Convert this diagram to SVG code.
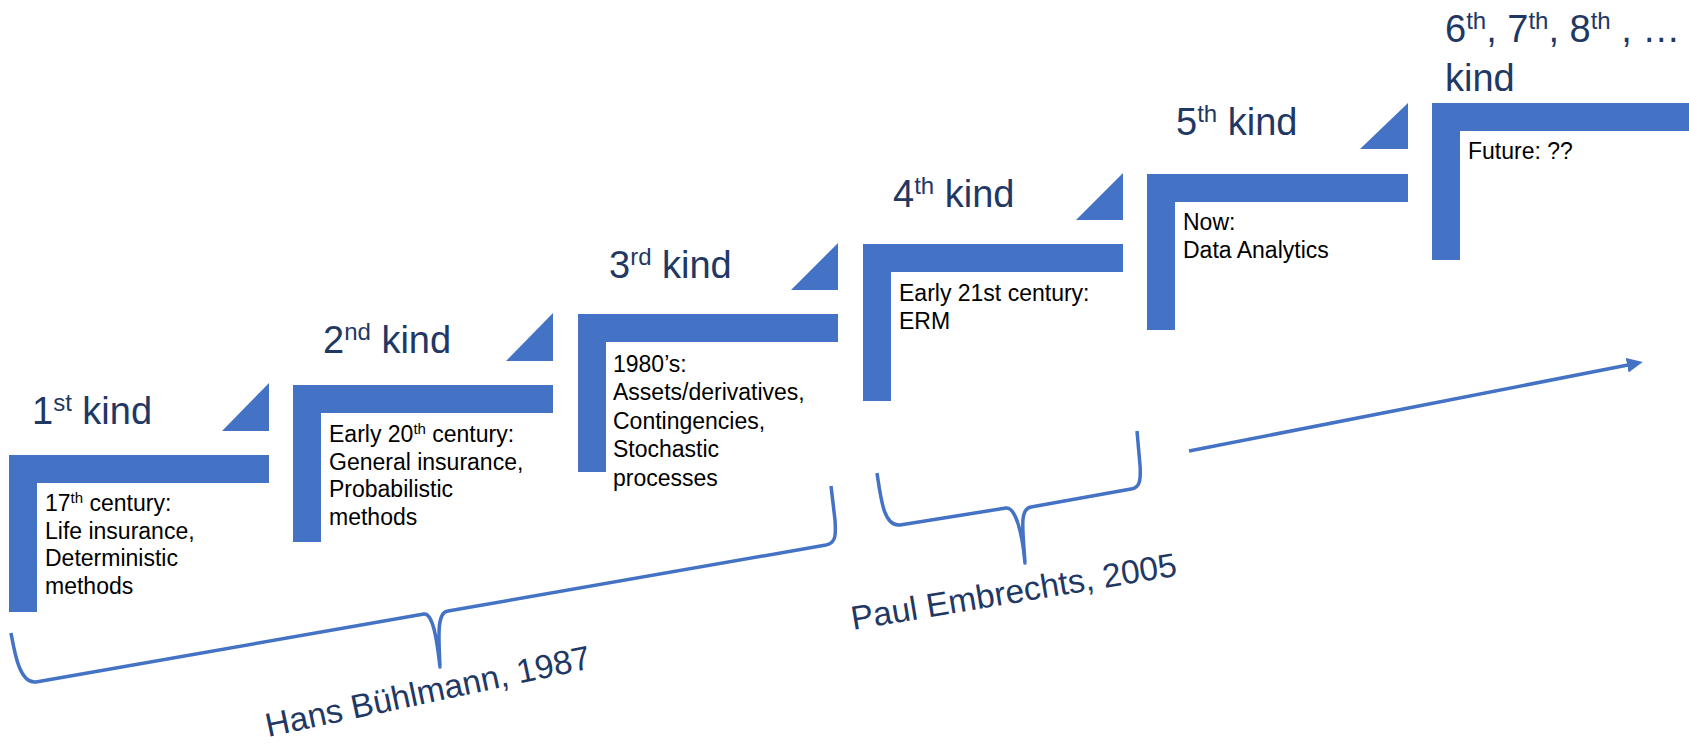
<svg xmlns="http://www.w3.org/2000/svg" width="1689" height="744" viewBox="0 0 1689 744">
<style>
.step{fill:#4472C4}
.lbl{font-family:"Liberation Sans",Arial,sans-serif;font-size:38px;fill:#1F3864}
.sup{font-size:24px}
.body{font-family:"Liberation Sans",Arial,sans-serif;font-size:23px;fill:#000}
.bsup{font-size:15px}
.brace{fill:none;stroke:#4472C4;stroke-width:3.5;stroke-linecap:butt;stroke-linejoin:round}
.who{font-family:"Liberation Sans",Arial,sans-serif;font-size:33.5px;fill:#1F3864}
</style>
<defs>
<marker id="ah" markerUnits="userSpaceOnUse" viewBox="0 0 16 15" markerWidth="16" markerHeight="15" refX="6" refY="7.5" orient="auto">
<path d="M0,0 L16,7.5 L0,15 z" fill="#4472C4"/>
</marker>
</defs>
<rect width="1689" height="744" fill="#fff"/>

<g id="kind1">
<polygon class="step" points="9,455 269,455 269,483 37,483 37,612 9,612"/>
<polygon class="step" points="269,383 269,431 222,431"/>
<text class="lbl" x="32" y="424">1<tspan class="sup" dy="-13">st</tspan><tspan dy="13"> kind</tspan></text>
<text class="body" x="45" y="511">17<tspan class="bsup" dy="-8">th</tspan><tspan dy="8"> century:</tspan><tspan x="45" y="539">Life insurance,</tspan><tspan x="45" y="566">Deterministic</tspan><tspan x="45" y="594">methods</tspan></text>
</g>

<g id="kind2">
<polygon class="step" points="293,385 553,385 553,413 321,413 321,542 293,542"/>
<polygon class="step" points="553,313 553,361 506,361"/>
<text class="lbl" x="323" y="353">2<tspan class="sup" dy="-13">nd</tspan><tspan dy="13"> kind</tspan></text>
<text class="body" x="329" y="442">Early 20<tspan class="bsup" dy="-8">th</tspan><tspan dy="8"> century:</tspan><tspan x="329" y="470">General insurance,</tspan><tspan x="329" y="497">Probabilistic</tspan><tspan x="329" y="525">methods</tspan></text>
</g>

<g id="kind3">
<polygon class="step" points="578,314 838,314 838,342 606,342 606,472 578,472"/>
<polygon class="step" points="838,243 838,290 791,290"/>
<text class="lbl" x="609" y="278">3<tspan class="sup" dy="-13">rd</tspan><tspan dy="13"> kind</tspan></text>
<text class="body" x="613" y="372">1980’s:<tspan x="613" y="400">Assets/derivatives,</tspan><tspan x="613" y="429">Contingencies,</tspan><tspan x="613" y="457">Stochastic</tspan><tspan x="613" y="486">processes</tspan></text>
</g>

<g id="kind4">
<polygon class="step" points="863,244 1123,244 1123,272 891,272 891,401 863,401"/>
<polygon class="step" points="1123,173 1123,220 1076,220"/>
<text class="lbl" x="893" y="207">4<tspan class="sup" dy="-13">th</tspan><tspan dy="13"> kind</tspan></text>
<text class="body" x="899" y="301">Early 21st century:<tspan x="899" y="329">ERM</tspan></text>
</g>

<g id="kind5">
<polygon class="step" points="1147,174 1408,174 1408,202 1175,202 1175,330 1147,330"/>
<polygon class="step" points="1408,103 1408,149 1360,149"/>
<text class="lbl" x="1176" y="135">5<tspan class="sup" dy="-13">th</tspan><tspan dy="13"> kind</tspan></text>
<text class="body" x="1183" y="230">Now:<tspan x="1183" y="258">Data Analytics</tspan></text>
</g>

<g id="kind6">
<polygon class="step" points="1432,103 1689,103 1689,131 1460,131 1460,260 1432,260"/>
<text class="lbl" x="1445" y="42">6<tspan class="sup" dy="-13">th</tspan><tspan dy="13">, 7</tspan><tspan class="sup" dy="-13">th</tspan><tspan dy="13">, 8</tspan><tspan class="sup" dy="-13">th</tspan><tspan dy="13"> , …</tspan><tspan x="1445" y="91">kind</tspan></text>
<text class="body" x="1468" y="159">Future: ??</text>
</g>

<g id="connectors">
<path id="brace-buhlmann" class="brace" d="M11,633 C15,655 20,684 36,682 L424,614 C433,613 437,640 440,667 C439,640 436,612 448,611 L826,545 C836,543 836,535 835,520 L831,486"/>
<path id="brace-embrechts" class="brace" d="M877,473 C881,500 884,527 900,525 L1006,508 C1015,507 1022,530 1025,563 C1023,530 1019,509 1031,507 L1131,489 C1140,488 1141,480 1140,465 L1137,431"/>
<path id="timeline-arrow" class="brace" d="M1189,451 L1633,364" marker-end="url(#ah)"/>
</g>

<g id="authors">
<text class="who" transform="translate(268,737) rotate(-12)">Hans Bühlmann, 1987</text>
<text class="who" transform="translate(853,630) rotate(-9.5)">Paul Embrechts, 2005</text>
</g>
</svg>
